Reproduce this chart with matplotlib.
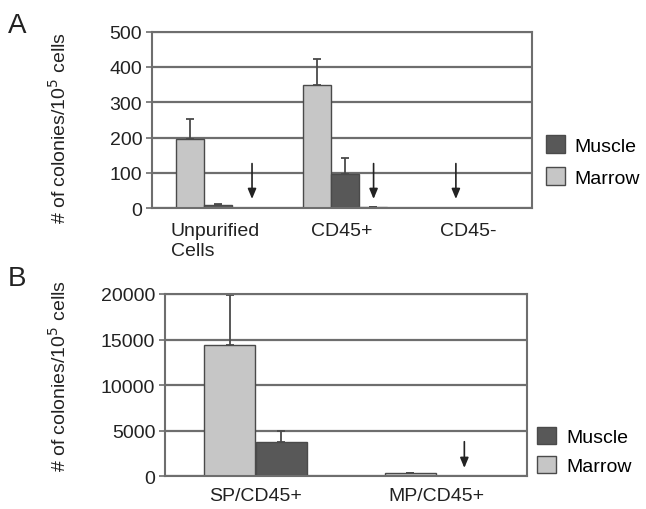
import numpy as np
import matplotlib
matplotlib.use("Agg")
import matplotlib.pyplot as plt
from matplotlib.patches import Patch

plt.rcParams['font.family'] = ['Liberation Sans', 'DejaVu Sans']

# Panel A data
groups_a = ['Unpurified\nCells', 'CD45+', 'CD45-']
marrow_a = [195, 350, 0]
marrow_a_err = [58, 73, 0]
muscle_a = [10, 98, 0]
muscle_a_err = [3, 44, 0]
other_a = [0, 2, 0]
other_a_err = [1, 1, 0]
arrows_a_x = [0.29, 1.25, 1.9]

# Panel B data
groups_b = ['SP/CD45+', 'MP/CD45+']
marrow_b = [14430, 330]
marrow_b_err = [5420, 80]
muscle_b = [3740, 0]
muscle_b_err = [1200, 0]
arrows_b_x = [1.155]

light = '#c6c6c6'
dark = '#585858'
edge = '#4a4a4a'
grid_c = '#6e6e6e'

fig = plt.figure(figsize=(6.46, 5.10), dpi=100)
ax_a = fig.add_axes([0.2353, 0.590, 0.588, 0.346])
ax_b = fig.add_axes([0.2554, 0.0641, 0.560, 0.3575])


def style_axes(ax, ylim, yticks):
    ax.set_ylim(*ylim)
    ax.set_yticks(yticks)
    ax.set_axisbelow(True)
    ax.yaxis.grid(True, color=grid_c, lw=1.6)
    for s in ax.spines.values():
        s.set_color(grid_c)
        s.set_linewidth(1.5)
    ax.tick_params(axis='y', length=4, width=1.2, color=grid_c, pad=3,
                   labelsize=14, labelcolor='#222222')
    ax.tick_params(axis='x', length=0, labelsize=14, labelcolor='#222222')


ebar = dict(ecolor=edge, elinewidth=1.3, capsize=3, capthick=1.3)

# ---- Panel A ----
xa = np.arange(len(groups_a))
w = 0.222
ax_a.bar(xa - 0.2, marrow_a, w, color=light, edgecolor=edge, lw=1,
         yerr=[np.zeros(3), marrow_a_err], error_kw=ebar)
ax_a.bar(xa + 0.022, muscle_a, w, color=dark, edgecolor=edge, lw=1,
         yerr=[np.zeros(3), muscle_a_err], error_kw=ebar)
ax_a.bar(xa + 0.244, other_a, w, color=light, edgecolor='#888888', lw=1,
         yerr=[np.zeros(3), other_a_err], error_kw=ebar)
for x in arrows_a_x:
    ax_a.annotate('', xy=(x, 18), xytext=(x, 134),
                  arrowprops=dict(arrowstyle='-|>,head_length=0.6,head_width=0.25',
                                  color='#222222', lw=1.2))
ax_a.set_xlim(-0.5, 2.5)
ax_a.set_xticks(xa)
ax_a.set_xticklabels(groups_a, multialignment='left')
style_axes(ax_a, (0, 500), [0, 100, 200, 300, 400, 500])
ax_a.tick_params(axis='x', pad=10)
ax_a.set_ylabel('# of colonies/10$^5$ cells', fontsize=14, color='#222222')
ax_a.yaxis.set_label_coords(-0.216, 0.46)

# ---- Panel B ----
xb = np.arange(len(groups_b))
wb = 0.285
ax_b.bar(xb - 0.143, marrow_b, wb, color=light, edgecolor=edge, lw=1,
         yerr=[np.zeros(2), marrow_b_err], error_kw=ebar)
ax_b.bar(xb + 0.143, muscle_b, wb, color=dark, edgecolor=edge, lw=1,
         yerr=[np.zeros(2), muscle_b_err], error_kw=ebar)
for x in arrows_b_x:
    ax_b.annotate('', xy=(x, 615), xytext=(x, 4100),
                  arrowprops=dict(arrowstyle='-|>,head_length=0.6,head_width=0.25',
                                  color='#222222', lw=1.2))
ax_b.set_xlim(-0.5, 1.5)
ax_b.set_xticks(xb)
ax_b.set_xticklabels(groups_b)
style_axes(ax_b, (0, 20000), [0, 5000, 10000, 15000, 20000])
ax_b.tick_params(axis='x', pad=8)
ax_b.set_ylabel('# of colonies/10$^5$ cells', fontsize=14, color='#222222')
ax_b.yaxis.set_label_coords(-0.263, 0.556)

# legends
handles = [Patch(facecolor=dark, edgecolor=edge, label='Muscle'),
           Patch(facecolor=light, edgecolor=edge, label='Marrow')]
ax_a.legend(handles=handles, loc='center left', bbox_to_anchor=(1.037, 0.267),
            frameon=False, fontsize=14, borderpad=0, borderaxespad=0,
            handlelength=1.0, handleheight=1.0, handletextpad=0.46,
            labelspacing=0.65)
ax_b.legend(handles=handles, loc='center left', bbox_to_anchor=(1.028, 0.14),
            frameon=False, fontsize=14, borderpad=0, borderaxespad=0,
            handlelength=1.0, handleheight=1.0, handletextpad=0.5,
            labelspacing=0.5)

fig.text(0.012, 0.935, 'A', fontsize=20, color='#222222')
fig.text(0.012, 0.44, 'B', fontsize=20, color='#222222')

fig.savefig('out.png', dpi=100)
